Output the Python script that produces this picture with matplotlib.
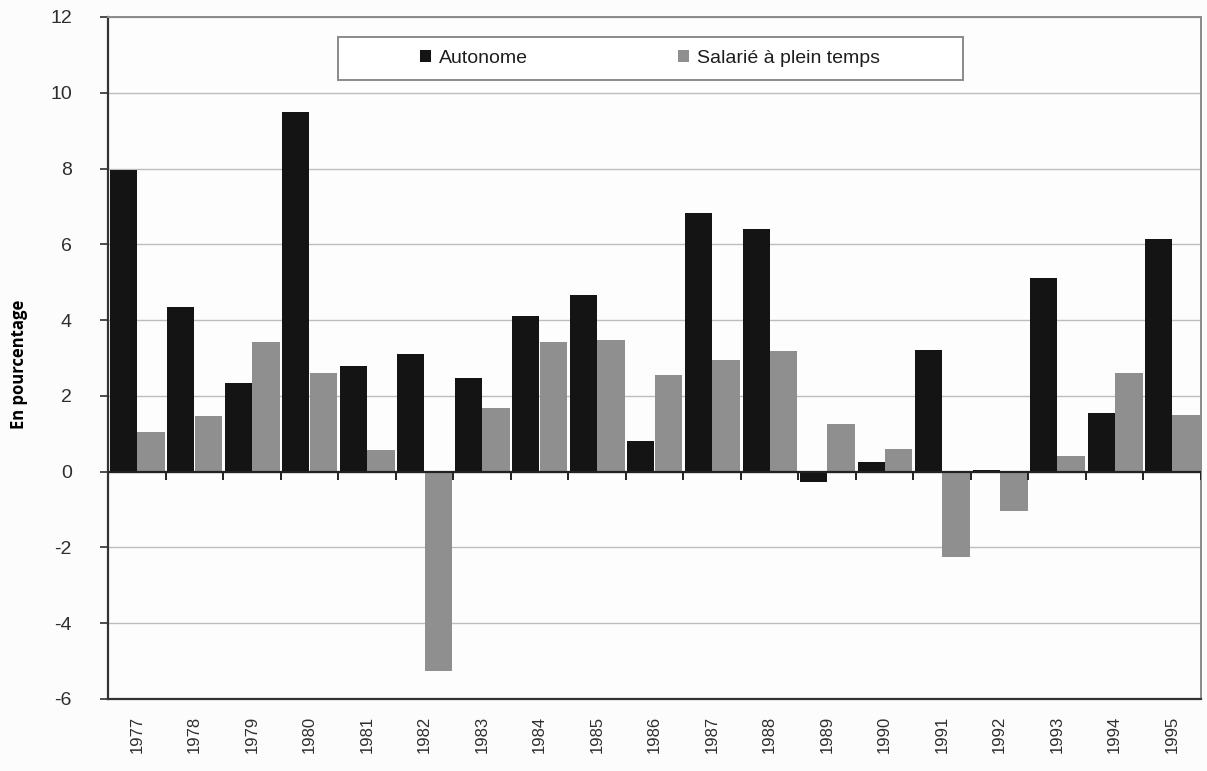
import numpy as np
import matplotlib
matplotlib.use("Agg")
import matplotlib.pyplot as plt
from matplotlib.patches import Rectangle

# Croissance annuelle de l'emploi, en pourcentage
annees = ["1977", "1978", "1979", "1980", "1981", "1982", "1983", "1984", "1985", "1986",
          "1987", "1988", "1989", "1990", "1991", "1992", "1993", "1994", "1995"]
autonome = [7.95, 4.35, 2.35, 9.5, 2.8, 3.1, 2.47, 4.1, 4.65, 0.8,
            6.83, 6.4, -0.28, 0.25, 3.2, 0.05, 5.1, 1.55, 6.15]
salarie = [1.05, 1.47, 3.41, 2.6, 0.56, -5.25, 1.69, 3.43, 3.48, 2.56,
           2.95, 3.19, 1.25, 0.6, -2.25, -1.05, 0.4, 2.6, 1.5]
yticks = [-6, -4, -2, 0, 2, 4, 6, 8, 10, 12]

plt.rcParams["font.family"] = ["Liberation Sans", "DejaVu Sans"]

fig = plt.figure(figsize=(12.07, 7.71), dpi=100)
fig.patch.set_facecolor("#fcfcfc")
ax = fig.add_axes([0.0895, 0.0934, 0.9055, 0.8846])
ax.set_facecolor("#fdfdfd")

x = np.arange(len(annees))
ax.bar(x - 0.235, autonome, width=0.47, color="#141414", label="Autonome", zorder=3)
ax.bar(x + 0.245, salarie, width=0.48, color="#8f8f8f", label="Salarié à plein temps", zorder=3)

ax.set_xlim(-0.5, len(annees) - 0.5)
ax.set_ylim(-6, 12)
ax.set_yticks(yticks)
ax.set_yticklabels([str(v) for v in yticks])
ax.yaxis.grid(True, color="#bdbdbd", linewidth=1.0, zorder=0)
ax.tick_params(axis="y", length=6, width=1.2, pad=20, labelsize=14, colors="#2e2e2e")

ax.set_xticks(x)
ax.set_xticklabels(annees, rotation=90, fontsize=12, color="#2e2e2e")
ax.tick_params(axis="x", length=0, pad=12)

# ligne du zéro avec les séparations entre années
ax.axhline(0, color="#222222", linewidth=1.6, zorder=4)
ax.vlines(np.arange(len(annees)) + 0.5, -0.22, 0, color="#222222", linewidth=1.4, zorder=4)

for side in ["left", "bottom"]:
    ax.spines[side].set_color("#333333")
    ax.spines[side].set_linewidth(1.6)
for side in ["top", "right"]:
    ax.spines[side].set_color("#8a8a8a")
    ax.spines[side].set_linewidth(1.4)

ax.set_ylabel("En pourcentage", fontsize=12, fontweight="bold", family=["Open Sans", "DejaVu Sans"])
ax.yaxis.set_label_coords(-0.073, 0.49)

# cadre de la légende
ax.add_patch(Rectangle((0.21, 0.908), 0.572, 0.063, transform=ax.transAxes,
                       facecolor="white", edgecolor="#8a8a8a", linewidth=1.4, zorder=5))
leg = ax.legend(loc="center", bbox_to_anchor=(0.496, 0.9395), ncol=2, frameon=False,
                fontsize=14, handlelength=0.55, handleheight=0.55, handletextpad=0.45,
                columnspacing=7.7)
leg.set_zorder(6)
for t in leg.get_texts():
    t.set_color("#1e1e1e")

fig.savefig("out.png", dpi=100, facecolor=fig.get_facecolor())
